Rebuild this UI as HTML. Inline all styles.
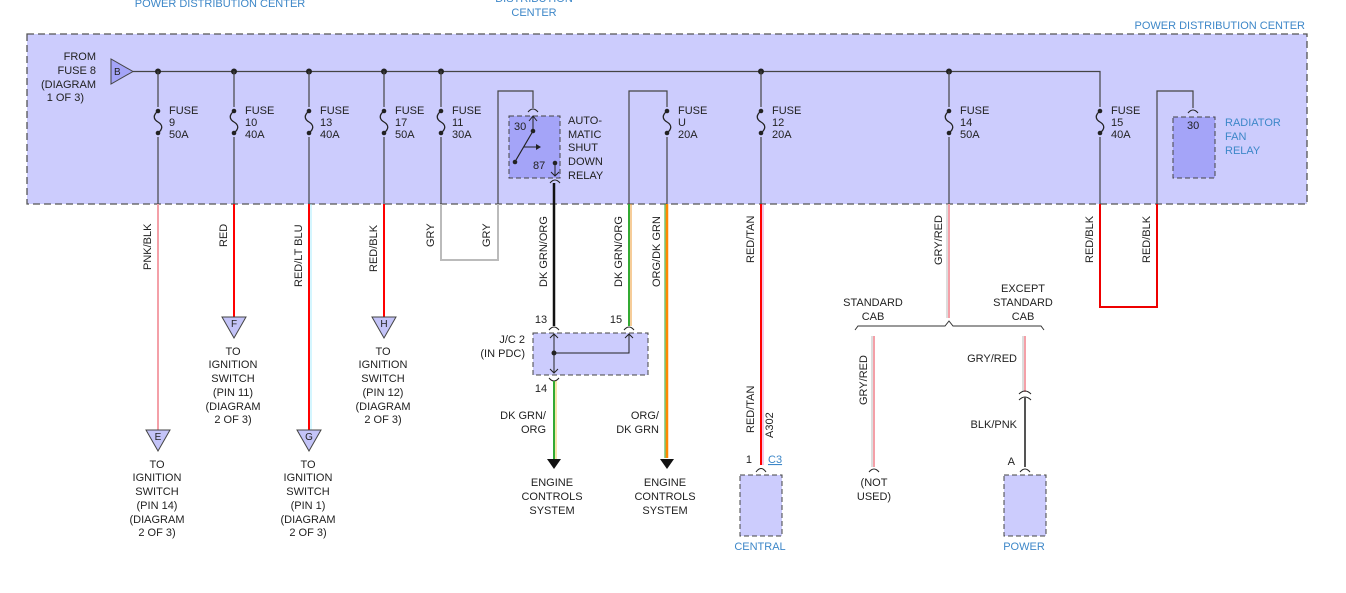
<!DOCTYPE html>
<html><head><meta charset="utf-8"><style>
html,body{margin:0;padding:0;background:#fff;}
svg{display:block;font-family:"Liberation Sans",sans-serif;font-size:11px;}
.t{fill:#222;}
.b{fill:#3d87c8;}
</style></head><body>
<svg width="1346" height="593" viewBox="0 0 1346 593" xmlns="http://www.w3.org/2000/svg">
<defs>
<g id="fuse"><path d="M0,-11 C-5,-7 -5,-3 0,0 C5,3 5,7 0,11" fill="none" stroke="#222" stroke-width="1.3"/><circle cx="0" cy="-11" r="2.3" fill="#222"/><circle cx="0" cy="11" r="2.3" fill="#222"/></g>
</defs>
<text x="220" y="7" class="b" text-anchor="middle">POWER DISTRIBUTION CENTER</text>
<text x="534" y="2" class="b" text-anchor="middle">DISTRIBUTION</text>
<text x="534" y="16" class="b" text-anchor="middle">CENTER</text>
<text x="1305" y="29" class="b" text-anchor="end">POWER DISTRIBUTION CENTER</text>
<rect x="27" y="34" width="1280" height="170" fill="#ccccfd" stroke="#555" stroke-width="1.3" stroke-dasharray="7,4"/>
<g class="t"><text x="96" y="60" text-anchor="end">FROM</text><text x="96" y="74" text-anchor="end">FUSE 8</text><text x="96" y="88" text-anchor="end">(DIAGRAM</text><text x="84" y="101" text-anchor="end">1 OF 3)</text></g>
<polygon points="111,59 111,84 133,71.5" fill="#a4a4f8" stroke="#444"/>
<text x="114" y="75" class="t" font-size="10">B</text>
<path d="M133,71.5 H1100 V204" fill="none" stroke="#444" stroke-width="1.2"/>
<g fill="#222"><circle cx="158" cy="71.5" r="3"/><circle cx="234" cy="71.5" r="3"/><circle cx="309" cy="71.5" r="3"/><circle cx="384" cy="71.5" r="3"/><circle cx="441" cy="71.5" r="3"/><circle cx="761" cy="71.5" r="3"/><circle cx="949" cy="71.5" r="3"/></g>
<g stroke="#444" stroke-width="1.2">
<line x1="158" y1="71" x2="158" y2="204"/><line x1="234" y1="71" x2="234" y2="204"/><line x1="309" y1="71" x2="309" y2="204"/><line x1="384" y1="71" x2="384" y2="204"/><line x1="441" y1="71" x2="441" y2="204"/><line x1="761" y1="71" x2="761" y2="204"/><line x1="949" y1="71" x2="949" y2="204"/>
</g>
<path d="M498,204 V91 H533 V108" fill="none" stroke="#444" stroke-width="1.2"/>
<path d="M629,204 V91 H667 V204" fill="none" stroke="#444" stroke-width="1.2"/>
<path d="M1157,204 V91 H1193 V108" fill="none" stroke="#444" stroke-width="1.2"/>
<g fill="#ccccfd"><rect x="150" y="107" width="16" height="30"/><rect x="226" y="107" width="16" height="30"/><rect x="301" y="107" width="16" height="30"/><rect x="376" y="107" width="16" height="30"/><rect x="433" y="107" width="16" height="30"/><rect x="659" y="107" width="16" height="30"/><rect x="753" y="107" width="16" height="30"/><rect x="941" y="107" width="16" height="30"/><rect x="1092" y="107" width="16" height="30"/></g>
<use href="#fuse" x="158" y="122"/><use href="#fuse" x="234" y="122"/><use href="#fuse" x="309" y="122"/><use href="#fuse" x="384" y="122"/><use href="#fuse" x="441" y="122"/><use href="#fuse" x="667" y="122"/><use href="#fuse" x="761" y="122"/><use href="#fuse" x="949" y="122"/><use href="#fuse" x="1100" y="122"/>
<g class="t">
<text x="169" y="114">FUSE</text><text x="169" y="126">9</text><text x="169" y="138">50A</text>
<text x="245" y="114">FUSE</text><text x="245" y="126">10</text><text x="245" y="138">40A</text>
<text x="320" y="114">FUSE</text><text x="320" y="126">13</text><text x="320" y="138">40A</text>
<text x="395" y="114">FUSE</text><text x="395" y="126">17</text><text x="395" y="138">50A</text>
<text x="452" y="114">FUSE</text><text x="452" y="126">11</text><text x="452" y="138">30A</text>
<text x="678" y="114">FUSE</text><text x="678" y="126">U</text><text x="678" y="138">20A</text>
<text x="772" y="114">FUSE</text><text x="772" y="126">12</text><text x="772" y="138">20A</text>
<text x="960" y="114">FUSE</text><text x="960" y="126">14</text><text x="960" y="138">50A</text>
<text x="1111" y="114">FUSE</text><text x="1111" y="126">15</text><text x="1111" y="138">40A</text>
</g>
<rect x="509" y="116" width="51" height="62" fill="#a4a4f8" stroke="#444" stroke-dasharray="5,3"/>
<path d="M528,112 Q533,106 538,112" fill="none" stroke="#222"/>
<path d="M529,121 L533,116 L537,121 M533,116 V131" fill="none" stroke="#222"/>
<circle cx="533" cy="131" r="2.3" fill="#222"/><circle cx="515" cy="162" r="2.3" fill="#222"/>
<line x1="533" y1="131" x2="516" y2="160" stroke="#222" stroke-width="1.2"/>
<line x1="524" y1="147" x2="537" y2="147" stroke="#222"/><polygon points="536,144 541,147 536,150" fill="#222"/>
<circle cx="555" cy="163" r="2.3" fill="#222"/>
<path d="M555,163 V176 M551,172 L555,176 L559,172 M550,183 Q555,177 560,183" fill="none" stroke="#222"/>
<text x="514" y="130" class="t">30</text><text x="533" y="169" class="t">87</text>
<g class="t"><text x="568" y="124">AUTO-</text><text x="568" y="138">MATIC</text><text x="568" y="151">SHUT</text><text x="568" y="165">DOWN</text><text x="568" y="179">RELAY</text></g>
<rect x="1173" y="117" width="42" height="61" fill="#a4a4f8" stroke="#444" stroke-dasharray="5,3"/>
<path d="M1188,113 Q1193,107 1198,113" fill="none" stroke="#222"/>
<text x="1187" y="129" class="t">30</text>
<g class="b"><text x="1225" y="126">RADIATOR</text><text x="1225" y="140">FAN</text><text x="1225" y="154">RELAY</text></g>
<line x1="158" y1="204" x2="158" y2="430" stroke="#f4a0a8" stroke-width="2"/>
<line x1="234" y1="204" x2="234" y2="317" stroke="#f00" stroke-width="2"/>
<line x1="309" y1="204" x2="309" y2="430" stroke="#f00" stroke-width="2"/><line x1="311" y1="204" x2="311" y2="430" stroke="#aef" stroke-width="1"/>
<line x1="384" y1="204" x2="384" y2="317" stroke="#f00" stroke-width="2"/>
<path d="M441,204 V260 H498 V204" fill="none" stroke="#bbb" stroke-width="2"/>
<line x1="554" y1="183" x2="554" y2="326" stroke="#111" stroke-width="2.5"/>
<line x1="629" y1="204" x2="629" y2="326" stroke="#3a3" stroke-width="2"/><line x1="631" y1="204" x2="631" y2="326" stroke="#e93" stroke-width="1"/>
<line x1="667" y1="204" x2="667" y2="458" stroke="#f80" stroke-width="2.5"/><line x1="665" y1="204" x2="665" y2="458" stroke="#3a3" stroke-width="1"/>
<line x1="761" y1="204" x2="761" y2="465" stroke="#f00" stroke-width="2"/><line x1="763" y1="204" x2="763" y2="465" stroke="#e8c" stroke-width="1"/>
<line x1="949" y1="204" x2="949" y2="318" stroke="#f4a0a8" stroke-width="2"/><line x1="947" y1="204" x2="947" y2="318" stroke="#bbb" stroke-width="1"/>
<path d="M1100,204 V307 H1157 V204" fill="none" stroke="#e00" stroke-width="2"/>
<g class="t">
<text transform="translate(151,270) rotate(-90)">PNK/BLK</text>
<text transform="translate(227,247) rotate(-90)">RED</text>
<text transform="translate(302,287) rotate(-90)">RED/LT BLU</text>
<text transform="translate(377,272) rotate(-90)">RED/BLK</text>
<text transform="translate(434,247) rotate(-90)">GRY</text>
<text transform="translate(490,247) rotate(-90)">GRY</text>
<text transform="translate(547,287) rotate(-90)">DK GRN/ORG</text>
<text transform="translate(622,287) rotate(-90)">DK GRN/ORG</text>
<text transform="translate(660,287) rotate(-90)">ORG/DK GRN</text>
<text transform="translate(754,263) rotate(-90)">RED/TAN</text>
<text transform="translate(942,265) rotate(-90)">GRY/RED</text>
<text transform="translate(1093,263) rotate(-90)">RED/BLK</text>
<text transform="translate(1150,263) rotate(-90)">RED/BLK</text>
<text transform="translate(754,433) rotate(-90)">RED/TAN</text>
<text transform="translate(773,438) rotate(-90)">A302</text>
<text transform="translate(867,405) rotate(-90)">GRY/RED</text>
</g>
<g fill="#c4c4f8" stroke="#444">
<polygon points="146,430 170,430 158,451"/><polygon points="222,317 246,317 234,338"/><polygon points="297,430 321,430 309,451"/><polygon points="372,317 396,317 384,338"/>
</g>
<g class="t" font-size="10" text-anchor="middle"><text x="158" y="440">E</text><text x="234" y="327">F</text><text x="309" y="440">G</text><text x="384" y="327">H</text></g>
<g class="t" text-anchor="middle">
<text x="157" y="468">TO</text><text x="157" y="481">IGNITION</text><text x="157" y="495">SWITCH</text><text x="157" y="509">(PIN 14)</text><text x="157" y="523">(DIAGRAM</text><text x="157" y="536">2 OF 3)</text>
<text x="233" y="355">TO</text><text x="233" y="368">IGNITION</text><text x="233" y="382">SWITCH</text><text x="233" y="396">(PIN 11)</text><text x="233" y="410">(DIAGRAM</text><text x="233" y="423">2 OF 3)</text>
<text x="308" y="468">TO</text><text x="308" y="481">IGNITION</text><text x="308" y="495">SWITCH</text><text x="308" y="509">(PIN 1)</text><text x="308" y="523">(DIAGRAM</text><text x="308" y="536">2 OF 3)</text>
<text x="383" y="355">TO</text><text x="383" y="368">IGNITION</text><text x="383" y="382">SWITCH</text><text x="383" y="396">(PIN 12)</text><text x="383" y="410">(DIAGRAM</text><text x="383" y="423">2 OF 3)</text>
</g>
<rect x="533" y="333" width="115" height="42" fill="#ccccfd" stroke="#444" stroke-dasharray="5,3"/>
<path d="M549,330 Q554,324 559,330 M624,330 Q629,324 634,330 M549,378 Q554,384 559,378" fill="none" stroke="#222"/>
<path d="M554,334 V373 M550,338 L554,334 L558,338 M550,369 L554,373 L558,369 M554,353 H629 V334 M625,338 L629,334 L633,338" fill="none" stroke="#222"/>
<circle cx="554" cy="353" r="2.5" fill="#222"/>
<text x="541" y="323" class="t" text-anchor="middle">13</text><text x="616" y="323" class="t" text-anchor="middle">15</text><text x="541" y="392" class="t" text-anchor="middle">14</text>
<g class="t" text-anchor="end"><text x="525" y="343">J/C 2</text><text x="525" y="357">(IN PDC)</text></g>
<line x1="554" y1="381" x2="554" y2="460" stroke="#3a3" stroke-width="2"/><line x1="556" y1="381" x2="556" y2="460" stroke="#ec5" stroke-width="1"/>
<polygon points="547,459 561,459 554,469" fill="#111"/><polygon points="660,459 674,459 667,469" fill="#111"/>
<g class="t" text-anchor="end"><text x="546" y="419">DK GRN/</text><text x="546" y="433">ORG</text><text x="659" y="419">ORG/</text><text x="659" y="433">DK GRN</text></g>
<g class="t" text-anchor="middle"><text x="552" y="486">ENGINE</text><text x="552" y="500">CONTROLS</text><text x="552" y="514">SYSTEM</text><text x="665" y="486">ENGINE</text><text x="665" y="500">CONTROLS</text><text x="665" y="514">SYSTEM</text></g>
<path d="M756,472 Q761,465 766,472" fill="none" stroke="#222"/>
<rect x="740" y="475" width="42" height="61" fill="#ccccfd" stroke="#444" stroke-dasharray="5,3"/>
<text x="752" y="463" class="t" text-anchor="end">1</text>
<text x="768" y="463" class="b" text-decoration="underline">C3</text>
<text x="760" y="550" class="b" text-anchor="middle">CENTRAL</text>
<path d="M855,330 L858,326 H945 L949,321 L953,326 H1041 L1044,330" fill="none" stroke="#333"/>
<g class="t" text-anchor="middle"><text x="873" y="306">STANDARD</text><text x="873" y="320">CAB</text><text x="1023" y="292">EXCEPT</text><text x="1023" y="306">STANDARD</text><text x="1023" y="320">CAB</text></g>
<line x1="874" y1="336" x2="874" y2="467" stroke="#f4a0a8" stroke-width="2"/><line x1="872" y1="336" x2="872" y2="467" stroke="#bbb" stroke-width="1"/>
<path d="M869,472 Q874,466 879,472" fill="none" stroke="#222"/>
<g class="t" text-anchor="middle"><text x="874" y="486">(NOT</text><text x="874" y="500">USED)</text></g>
<line x1="1025" y1="336" x2="1025" y2="392" stroke="#f4a0a8" stroke-width="2"/><line x1="1023" y1="336" x2="1023" y2="392" stroke="#bbb" stroke-width="1"/>
<path d="M1019,394 Q1025,388 1031,394 M1019,400 Q1025,394 1031,400" fill="none" stroke="#222"/>
<line x1="1025" y1="397" x2="1025" y2="467" stroke="#555" stroke-width="2"/>
<path d="M1020,472 Q1025,466 1030,472" fill="none" stroke="#222"/>
<text x="1017" y="362" class="t" text-anchor="end">GRY/RED</text>
<text x="1017" y="428" class="t" text-anchor="end">BLK/PNK</text>
<text x="1015" y="465" class="t" text-anchor="end">A</text>
<rect x="1004" y="475" width="42" height="61" fill="#ccccfd" stroke="#444" stroke-dasharray="5,3"/>
<text x="1024" y="550" class="b" text-anchor="middle">POWER</text>
</svg>
</body></html>
